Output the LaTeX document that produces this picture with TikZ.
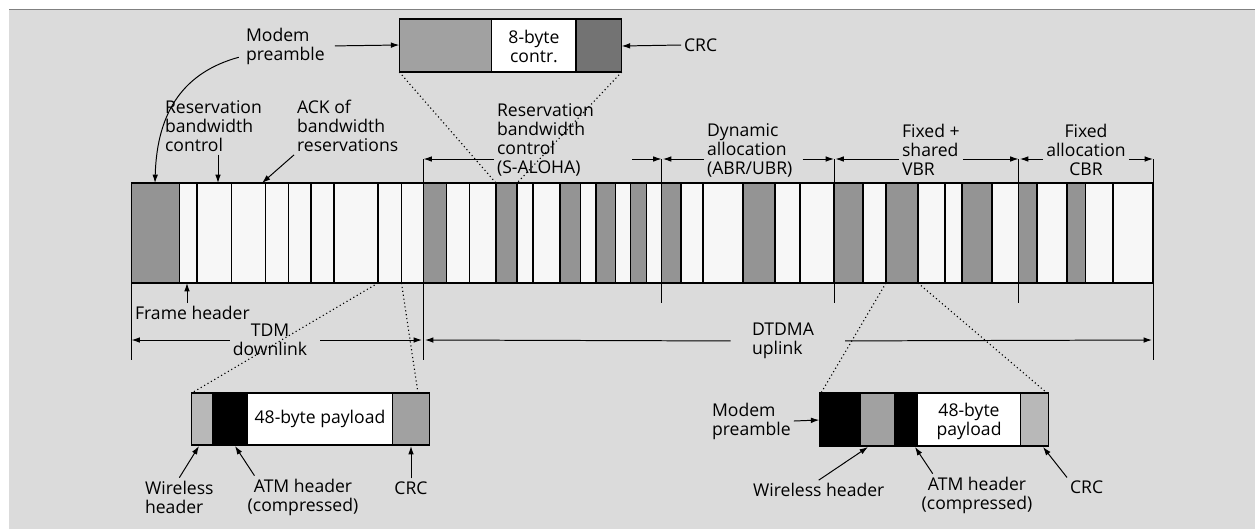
\documentclass[tikz,border=0pt]{standalone}
\usepackage{fontspec}
\setmainfont{Open Sans}
\usepackage{tikz}
\usetikzlibrary{arrows.meta}

\definecolor{bggrey}{gray}{0.86}
\definecolor{cellwhite}{gray}{0.97}
\definecolor{cellgrey}{gray}{0.58}
\definecolor{lightgrey}{gray}{0.72}
\definecolor{hdrgrey}{gray}{0.63}
\definecolor{crcdark}{gray}{0.45}

\begin{document}
\begin{tikzpicture}[x=0.025cm,y=-0.025cm,
	lbl/.style={inner sep=2pt,align=left,font=\fontsize{12.5}{13.5}\selectfont},
	box/.style={draw,line width=1pt},
	dim/.style={-{Latex[length=6pt,width=4pt]},line width=0.7pt},
	zoomline/.style={dotted,line width=0.8pt}]
	\useasboundingbox (0,0) rectangle (1255,529);
	
	% background
	\fill[bggrey] (9,9) rectangle (1255,529);
	\draw[gray,line width=0.6pt] (9,9) -- (1255,9);
	
	% frame with slots
	\fill[cellwhite] (131.5,183) rectangle (1153,283);
	\foreach \a/\b in {131.5/179.5,423.5/446.5,496/517,560/580.5,596/615.5,630.5/646.5,661.5/681,743/775,834/863,886/918,962/992,1018.5/1037,1067/1085.5}
		\draw[box,fill=cellgrey] (\a,183) rectangle (\b,283);
	\foreach \x in {197,231.5,265.5,288.5,311,334,378,401.5,469.5,533,703,800,945,1113}
		\draw[line width=0.8pt] (\x,183) -- (\x,283);
	\draw[box] (131.5,183) rectangle (1153,283);
	
	% section borders
	\coordinate (b1) at (423.5,159);
	\coordinate (b2) at (661.5,159);
	\coordinate (b3) at (834,159);
	\coordinate (b4) at (1018.5,159);
	\coordinate (b5) at (1153,159);
	\draw[line width=0.7pt] (b1) -- (423.5,360);
	\draw[line width=0.7pt] (b2) -- (661.5,303);
	\draw[line width=0.7pt] (b3) -- (834,303);
	\draw[line width=0.7pt] (b4) -- (1018.5,303);
	\draw[line width=0.7pt] (b5) -- (1153,360);
	\draw[line width=0.7pt] (131.5,283) -- (131.5,360);
	
	% control packet
	\foreach \a/\b/\c in {399.3/491.7/hdrgrey,491.7/576/white,576/621.7/crcdark}
		\draw[box,fill=\c] (\a,19) rectangle (\b,72);
	\node[lbl,align=center] (ctr) at (534,46) {8-byte\\contr.};
	\coordinate (ctlpre) at (399.3,45);
	\coordinate (ctlcrc) at (621.7,46);
	\coordinate (ctlbl) at (399.3,72);
	\coordinate (ctlbr) at (621.7,72);
	\coordinate (slotA) at (496,183);
	\coordinate (slotB) at (517,183);
	\draw[zoomline] (ctlbl) -- (slotA);
	\draw[zoomline] (ctlbr) -- (slotB);
	
	% downlink cell
	\foreach \a/\b/\c in {191.7/212.7/lightgrey,212.7/247.7/black,247.7/392.7/white,392.7/429.3/hdrgrey}
		\draw[box,fill=\c] (\a,393) rectangle (\b,445);
	\node[lbl] (pay1) at (320,419) {48-byte payload};
	\coordinate (dlA) at (378,283);
	\coordinate (dlB) at (401.5,283);
	\coordinate (dlbox1) at (191.7,393);
	\coordinate (dlbox2) at (418,393);
	\draw[zoomline] (dlA) -- (dlbox1);
	\draw[zoomline] (dlB) -- (dlbox2);
	
	% uplink cell
	\foreach \a/\b/\c in {819.3/860/black,860/894.3/hdrgrey,894.3/917.7/black,917.7/1020.7/white,1020.7/1048.3/lightgrey}
		\draw[box,fill=\c] (\a,393) rectangle (\b,446);
	\node[lbl,align=center] (pay2) at (969,421) {48-byte\\payload};
	\coordinate (ulA) at (886,283);
	\coordinate (ulB) at (918,283);
	\coordinate (ulbox1) at (821,393);
	\coordinate (ulbox2) at (1047,393);
	\draw[zoomline] (ulA) -- (ulbox1);
	\draw[zoomline] (ulB) -- (ulbox2);
	
	% top labels
	\node[lbl,anchor=west] (mp1) at (243,46) {Modem\\preamble};
	\node[lbl,anchor=west] (crc1) at (681,45) {CRC};
	\node[lbl,anchor=west] (rbc1) at (162,126) {Reservation\\bandwidth\\control};
	\node[lbl,anchor=west] (ack) at (294,126) {ACK of\\bandwidth\\reservations};
	\coordinate (rbcpre) at (155,183);
	\coordinate (rbctop) at (218,183);
	\coordinate (acktop) at (262,183);
	\draw[dim,shorten <=5pt] (mp1.east) -- (ctlpre);
	\draw[dim] (crc1.west) -- (ctlcrc);
	\draw[dim] ([shift={(-3pt,-8pt)}]mp1.west) .. controls (185,72) and (157,110) .. (rbcpre);
	\draw[dim] (rbc1.south -| rbctop) -- (rbctop);
	\draw[dim] (ack.south west) -- (acktop);
	
	% sections
	\node[lbl,anchor=west] (rbc2) at (494,140) {Reservation\\bandwidth\\control\\(S-ALOHA)};
	\node[lbl,anchor=west] (dyn) at (704,150) {Dynamic\\allocation\\(ABR/UBR)};
	\node[lbl,anchor=west] (vbr) at (899,150) {Fixed +\\shared\\VBR};
	\node[lbl,align=center] (cbr) at (1086,150) {Fixed\\allocation\\CBR};
	\draw[dim] (rbc2.west |- b1) -- (b1);
	\draw[dim,shorten <=25pt] (rbc2.east |- b2) -- (b2);
	\draw[dim] (dyn.west |- b2) -- ([xshift=1pt]b2);
	\draw[dim,shorten <=5pt] (dyn.east |- b3) -- (b3);
	\draw[dim] (vbr.west |- b3) -- ([xshift=1pt]b3);
	\draw[dim] (vbr.east |- b4) -- (b4);
	\draw[dim] (cbr.west |- b4) -- ([xshift=1pt]b4);
	\draw[dim] (cbr.east |- b5) -- (b5);
	
	% frame header, downlink, uplink
	\node[lbl,anchor=west] (fh) at (132,313) {Frame header};
	\coordinate (fhcell) at (187,283);
	\draw[dim] (fh.north -| fhcell) -- (fhcell);
	\node[lbl,align=center] (tdm) at (270,340) {TDM\\downlink};
	\node[lbl,anchor=west] (dtdma) at (749,341) {DTDMA\\uplink};
	\coordinate (tdmL) at (131.5,340);
	\coordinate (tdmR) at (422,340);
	\coordinate (upL) at (425,340);
	\coordinate (upR) at (1152,340);
	\draw[dim] (tdm.west) -- (tdmL);
	\draw[dim,shorten <=7pt] (tdm.east) -- (tdmR);
	\draw[dim,shorten <=13pt] (dtdma.west) -- (upL);
	\draw[dim,shorten <=20pt] (dtdma.east) -- (upR);
	
	% bottom left labels
	\node[lbl,anchor=west] (wh1) at (142,497) {Wireless\\header};
	\node[lbl,align=center] (atm1) at (303,497) {ATM header\\(compressed)};
	\node[lbl] (crc2) at (411,488) {CRC};
	\coordinate (whtip1) at (199,446);
	\coordinate (atmtip1) at (235,446);
	\coordinate (crctip1) at (411,446);
	\draw[dim] (wh1.north) -- (whtip1);
	\draw[dim] ([xshift=7pt]atm1.north west) -- (atmtip1);
	\draw[dim] (crc2.north) -- (crctip1);
	
	% bottom right labels
	\node[lbl,anchor=west] (mp2) at (709,421) {Modem\\preamble};
	\node[lbl,anchor=west] (wh2) at (750,490) {Wireless header};
	\node[lbl,align=center] (atm2) at (977,495) {ATM header\\(compressed)};
	\node[lbl,anchor=west] (crc3) at (1067,487) {CRC};
	\coordinate (mptip2) at (819.3,420);
	\coordinate (whtip2) at (868,447);
	\coordinate (atmtip2) at (915,447);
	\coordinate (crctip3) at (1043,447);
	\draw[dim] (mp2.east) -- (mptip2);
	\draw[dim] (wh2.north) -- (whtip2);
	\draw[dim] ([xshift=10pt]atm2.north west) -- (atmtip2);
	\draw[dim] (crc3.north west) -- (crctip3);
	
\end{tikzpicture}
\end{document}
